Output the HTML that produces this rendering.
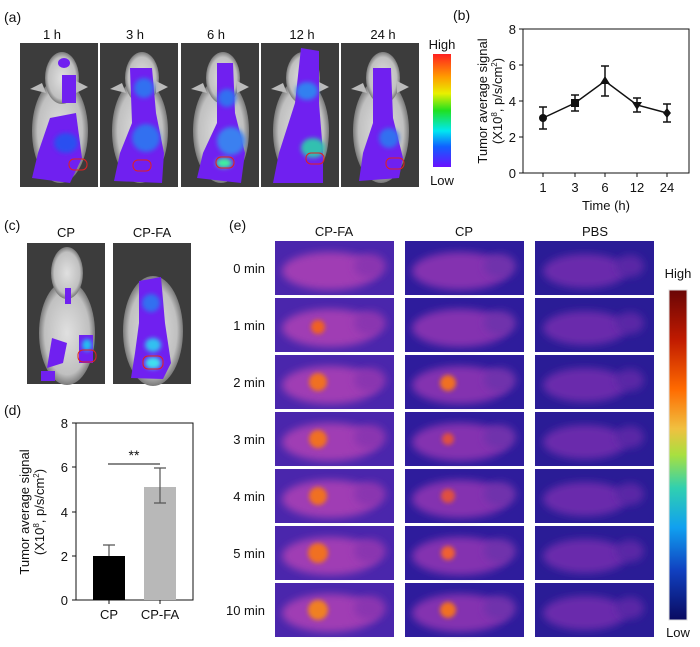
<!DOCTYPE html>
<html><head><meta charset="utf-8"><style>
body{margin:0;background:#fff}
svg{display:block}
text{font-family:"Liberation Sans",Arial,sans-serif;fill:#111}
</style></head><body>
<svg width="700" height="647" viewBox="0 0 700 647" xmlns="http://www.w3.org/2000/svg">
<defs>
<linearGradient id="cbA" x1="0" y1="0" x2="0" y2="1">
<stop offset="0" stop-color="#ff2020"/><stop offset="0.2" stop-color="#ff9a00"/><stop offset="0.35" stop-color="#e8f000"/><stop offset="0.5" stop-color="#20e020"/><stop offset="0.68" stop-color="#00e8f0"/><stop offset="0.82" stop-color="#1060ff"/><stop offset="1" stop-color="#6a10ff"/>
</linearGradient>
<linearGradient id="cbE" x1="0" y1="0" x2="0" y2="1">
<stop offset="0" stop-color="#6a0606"/><stop offset="0.15" stop-color="#c01a00"/><stop offset="0.3" stop-color="#ff6a00"/><stop offset="0.42" stop-color="#f0c040"/><stop offset="0.5" stop-color="#a8e040"/><stop offset="0.6" stop-color="#30d0b0"/><stop offset="0.72" stop-color="#10a0f0"/><stop offset="0.85" stop-color="#1040c0"/><stop offset="1" stop-color="#0a0a60"/>
</linearGradient>
<radialGradient id="body" cx="0.5" cy="0.5" r="0.5"><stop offset="0" stop-color="#e0e0e0"/><stop offset="0.8" stop-color="#c0c0c0"/><stop offset="1" stop-color="#7a7a7a"/></radialGradient>
<filter id="bl" x="-30%" y="-30%" width="160%" height="160%"><feGaussianBlur stdDeviation="4"/></filter>
<filter id="bl2" x="-50%" y="-50%" width="200%" height="200%"><feGaussianBlur stdDeviation="2"/></filter>
<g id="mouse">
<rect x="0" y="0" width="78" height="144" fill="#3c3c3c"/>
<ellipse cx="40" cy="88" rx="28" ry="52" fill="url(#body)"/>
<ellipse cx="42" cy="35" rx="17" ry="26" fill="url(#body)"/>
<path d="M22 40 L10 46 L26 50Z M56 38 L68 44 L56 50Z" fill="#bbb"/>
</g>
<g id="thA">
<rect x="0" y="0" width="119" height="54" fill="#4a26ac"/>
<ellipse cx="55" cy="30" rx="48" ry="19" fill="#a03cb4" filter="url(#bl)"/>
<ellipse cx="95" cy="25" rx="16" ry="12" fill="#8a34b0" filter="url(#bl)"/>
</g>
<g id="thB">
<rect x="0" y="0" width="119" height="54" fill="#2e1c9c"/>
<ellipse cx="55" cy="30" rx="48" ry="19" fill="#8432b0" filter="url(#bl)"/>
<ellipse cx="95" cy="25" rx="16" ry="12" fill="#7030ac" filter="url(#bl)"/>
</g>
<g id="thC">
<rect x="0" y="0" width="119" height="54" fill="#2a1c96"/>
<ellipse cx="50" cy="30" rx="42" ry="17" fill="#6a2cac" filter="url(#bl)"/>
<ellipse cx="95" cy="25" rx="14" ry="11" fill="#5a28a6" filter="url(#bl)"/>
</g>
</defs>

<!-- (a) -->
<text x="4" y="22" font-size="14">(a)</text>
<g font-size="13" text-anchor="middle">
<text x="52" y="39">1 h</text><text x="135" y="39">3 h</text><text x="216" y="39">6 h</text><text x="302" y="39">12 h</text><text x="383" y="39">24 h</text>
</g>
<g transform="translate(20,43)"><use href="#mouse"/>
<g fill="#7020f0"><ellipse cx="44" cy="20" rx="6" ry="5"/><rect x="42" y="32" width="14" height="28"/><path d="M30 75 L56 70 L62 115 L50 140 L12 135 L18 110Z"/></g>
<ellipse cx="46" cy="100" rx="12" ry="10" fill="#2a50f0" filter="url(#bl2)"/>
<rect x="49" y="116" width="18" height="11" rx="5" fill="none" stroke="#e02020"/></g>
<g transform="translate(100,43)"><use href="#mouse"/>
<path d="M30 25 L52 25 L56 70 L64 110 L62 140 L14 138 L20 110 L32 80Z" fill="#7020f0"/>
<ellipse cx="44" cy="45" rx="10" ry="10" fill="#3070f0" filter="url(#bl2)"/>
<ellipse cx="46" cy="95" rx="14" ry="14" fill="#3070f0" filter="url(#bl2)"/>
<rect x="33" y="117" width="18" height="11" rx="5" fill="none" stroke="#e02020"/></g>
<g transform="translate(181,43)"><use href="#mouse"/>
<path d="M36 20 L52 20 L54 70 L64 110 L60 140 L16 135 L22 110 L36 80Z" fill="#7020f0"/>
<ellipse cx="46" cy="55" rx="9" ry="9" fill="#3070f0" filter="url(#bl2)"/>
<ellipse cx="50" cy="98" rx="14" ry="14" fill="#3a80f0" filter="url(#bl2)"/>
<ellipse cx="43" cy="120" rx="8" ry="5" fill="#40f0a0" filter="url(#bl2)"/>
<rect x="35" y="114" width="18" height="11" rx="5" fill="none" stroke="#e02020"/></g>
<g transform="translate(261,43)"><use href="#mouse"/>
<path d="M40 5 L58 8 L58 60 L62 110 L62 140 L12 140 L18 110 L34 60Z" fill="#7020f0"/>
<ellipse cx="46" cy="48" rx="11" ry="9" fill="#3080f0" filter="url(#bl2)"/>
<ellipse cx="52" cy="105" rx="12" ry="10" fill="#30c0b0" filter="url(#bl2)"/>
<rect x="45" y="110" width="18" height="11" rx="5" fill="none" stroke="#e02020"/></g>
<g transform="translate(341,43)"><use href="#mouse"/>
<path d="M32 25 L50 25 L52 75 L62 115 L58 135 L18 138 L22 110 L32 80Z" fill="#7020f0"/>
<ellipse cx="48" cy="95" rx="10" ry="10" fill="#3070f0" filter="url(#bl2)"/>
<rect x="45" y="115" width="18" height="11" rx="5" fill="none" stroke="#e02020"/></g>
<text x="442" y="49" font-size="13" text-anchor="middle">High</text>
<rect x="433" y="54" width="18" height="113" fill="url(#cbA)"/>
<text x="442" y="185" font-size="13" text-anchor="middle">Low</text>

<!-- (b) -->
<text x="453" y="20" font-size="14">(b)</text>
<g stroke="#111" stroke-width="1" fill="none">
<rect x="523" y="29" width="166" height="144"/>
<path d="M519 29H523M519 65H523M519 101H523M519 137H523M519 173H523"/>
<path d="M543 173V177M575 173V177M605 173V177M637 173V177M667 173V177"/>
</g>
<g font-size="13" text-anchor="end"><text x="516" y="34">8</text><text x="516" y="70">6</text><text x="516" y="106">4</text><text x="516" y="142">2</text><text x="516" y="178">0</text></g>
<g font-size="13" text-anchor="middle"><text x="543" y="192">1</text><text x="575" y="192">3</text><text x="605" y="192">6</text><text x="637" y="192">12</text><text x="667" y="192">24</text><text x="606" y="210">Time (h)</text></g>
<g transform="translate(487,101) rotate(-90)" font-size="13" text-anchor="middle"><text y="0">Tumor average signal</text><text y="15">(X10<tspan font-size="8" dy="-5">8</tspan><tspan dy="5">, p/s/cm</tspan><tspan font-size="8" dy="-5">2</tspan><tspan dy="5">)</tspan></text></g>
<g stroke="#111" stroke-width="1.5" fill="none">
<polyline points="543,118 575,103 605,81 637,105 667,113"/>
<path d="M543,107V129M539,107H547M539,129H547 M575,95V111M571,95H579M571,111H579 M605,66V96M601,66H609M601,96H609 M637,98V112M633,98H641M633,112H641 M667,104V122M663,104H671M663,122H671"/>
</g>
<g fill="#111"><circle cx="543" cy="118" r="4"/><rect x="571" y="99" width="8" height="8"/><path d="M605,76 l5,8 h-10z"/><path d="M637,110 l5,-8 h-10z"/><path d="M667,108 l4,5 -4,5 -4,-5z"/></g>

<!-- (c) -->
<text x="4" y="230" font-size="14">(c)</text>
<text x="66" y="237" font-size="13" text-anchor="middle">CP</text>
<text x="152" y="237" font-size="13" text-anchor="middle">CP-FA</text>
<g transform="translate(27,243)"><rect width="78" height="141" fill="#3c3c3c"/><ellipse cx="40" cy="90" rx="28" ry="52" fill="url(#body)"/><ellipse cx="40" cy="30" rx="16" ry="26" fill="url(#body)"/>
<g fill="#7020f0"><rect x="38" y="45" width="6" height="16"/><path d="M25 95 L40 100 L36 120 L20 125Z"/><rect x="52" y="92" width="14" height="28"/><rect x="14" y="128" width="14" height="10"/></g>
<ellipse cx="60" cy="102" rx="5" ry="6" fill="#20c0f0" filter="url(#bl2)"/>
<rect x="51" y="107" width="18" height="12" rx="5" fill="none" stroke="#e02020"/></g>
<g transform="translate(113,243)"><rect width="78" height="141" fill="#3c3c3c"/><ellipse cx="40" cy="88" rx="30" ry="55" fill="url(#body)"/>
<path d="M26 38 L48 34 L52 80 L58 120 L50 136 L18 135 L22 110 L26 80Z" fill="#7020f0"/>
<ellipse cx="38" cy="60" rx="9" ry="9" fill="#3070f0" filter="url(#bl2)"/>
<ellipse cx="40" cy="102" rx="8" ry="7" fill="#30c0f0" filter="url(#bl2)"/>
<ellipse cx="40" cy="120" rx="8" ry="6" fill="#40e0f0" filter="url(#bl2)"/>
<rect x="30" y="113" width="20" height="13" rx="5" fill="none" stroke="#e02020"/></g>

<!-- (d) -->
<text x="4" y="415" font-size="14">(d)</text>
<g stroke="#111" stroke-width="1" fill="none">
<rect x="76" y="423" width="117" height="177"/>
<path d="M72 423H76M72 467H76M72 512H76M72 556H76M72 600H76M109 600V604M160 600V604"/>
</g>
<g font-size="13" text-anchor="end"><text x="68" y="428">8</text><text x="68" y="472">6</text><text x="68" y="517">4</text><text x="68" y="561">2</text><text x="68" y="605">0</text></g>
<rect x="93" y="556" width="32" height="44" fill="#000"/>
<rect x="144" y="487" width="32" height="113" fill="#b8b8b8"/>
<g stroke="#555" stroke-width="1.2"><path d="M109,556V545M103,545H115 M160,468V503M154,468H166M154,503H166"/></g>
<path d="M108 464H160" stroke="#111"/>
<text x="134" y="460" font-size="14" text-anchor="middle">**</text>
<g font-size="13" text-anchor="middle"><text x="109" y="619">CP</text><text x="160" y="619">CP-FA</text></g>
<g transform="translate(29,512) rotate(-90)" font-size="13" text-anchor="middle"><text y="0">Tumor average signal</text><text y="15">(X10<tspan font-size="8" dy="-5">8</tspan><tspan dy="5">, p/s/cm</tspan><tspan font-size="8" dy="-5">2</tspan><tspan dy="5">)</tspan></text></g>

<!-- (e) -->
<text x="229" y="230" font-size="14">(e)</text>
<g font-size="13" text-anchor="middle"><text x="334" y="236">CP-FA</text><text x="464" y="236">CP</text><text x="595" y="236">PBS</text></g>
<g font-size="13" text-anchor="end">
<text x="265" y="273">0 min</text><text x="265" y="330">1 min</text><text x="265" y="387">2 min</text><text x="265" y="444">3 min</text><text x="265" y="501">4 min</text><text x="265" y="558">5 min</text><text x="265" y="615">10 min</text>
</g>
<g transform="translate(0,0)"><g transform="translate(275,241)"><use href="#thA"/></g><g transform="translate(405,241)"><use href="#thB"/></g><g transform="translate(535,241)"><use href="#thC"/></g></g>
<g transform="translate(0,57)"><g transform="translate(275,241)"><use href="#thA"/><circle cx="43" cy="29" r="7" fill="#f06020" filter="url(#bl2)"/></g><g transform="translate(405,241)"><use href="#thB"/></g><g transform="translate(535,241)"><use href="#thC"/></g></g>
<g transform="translate(0,114)"><g transform="translate(275,241)"><use href="#thA"/><circle cx="43" cy="27" r="9" fill="#f07020" filter="url(#bl2)"/></g><g transform="translate(405,241)"><use href="#thB"/><circle cx="43" cy="28" r="8" fill="#f07020" filter="url(#bl2)"/></g><g transform="translate(535,241)"><use href="#thC"/></g></g>
<g transform="translate(0,171)"><g transform="translate(275,241)"><use href="#thA"/><circle cx="43" cy="27" r="9" fill="#f07020" filter="url(#bl2)"/></g><g transform="translate(405,241)"><use href="#thB"/><circle cx="43" cy="27" r="6" fill="#e05040" filter="url(#bl2)"/></g><g transform="translate(535,241)"><use href="#thC"/></g></g>
<g transform="translate(0,228)"><g transform="translate(275,241)"><use href="#thA"/><circle cx="43" cy="27" r="9" fill="#f07020" filter="url(#bl2)"/></g><g transform="translate(405,241)"><use href="#thB"/><circle cx="43" cy="27" r="7" fill="#e05040" filter="url(#bl2)"/></g><g transform="translate(535,241)"><use href="#thC"/></g></g>
<g transform="translate(0,285)"><g transform="translate(275,241)"><use href="#thA"/><circle cx="43" cy="27" r="10" fill="#f07020" filter="url(#bl2)"/></g><g transform="translate(405,241)"><use href="#thB"/><circle cx="43" cy="27" r="7" fill="#f06030" filter="url(#bl2)"/></g><g transform="translate(535,241)"><use href="#thC"/></g></g>
<g transform="translate(0,342)"><g transform="translate(275,241)"><use href="#thA"/><circle cx="43" cy="27" r="10" fill="#f08020" filter="url(#bl2)"/></g><g transform="translate(405,241)"><use href="#thB"/><circle cx="43" cy="27" r="8" fill="#f07020" filter="url(#bl2)"/></g><g transform="translate(535,241)"><use href="#thC"/></g></g>
<text x="678" y="278" font-size="13" text-anchor="middle">High</text>
<rect x="669" y="290" width="18" height="330" fill="url(#cbE)" stroke="#ddd"/>
<text x="678" y="637" font-size="13" text-anchor="middle">Low</text>
</svg>
</body></html>
